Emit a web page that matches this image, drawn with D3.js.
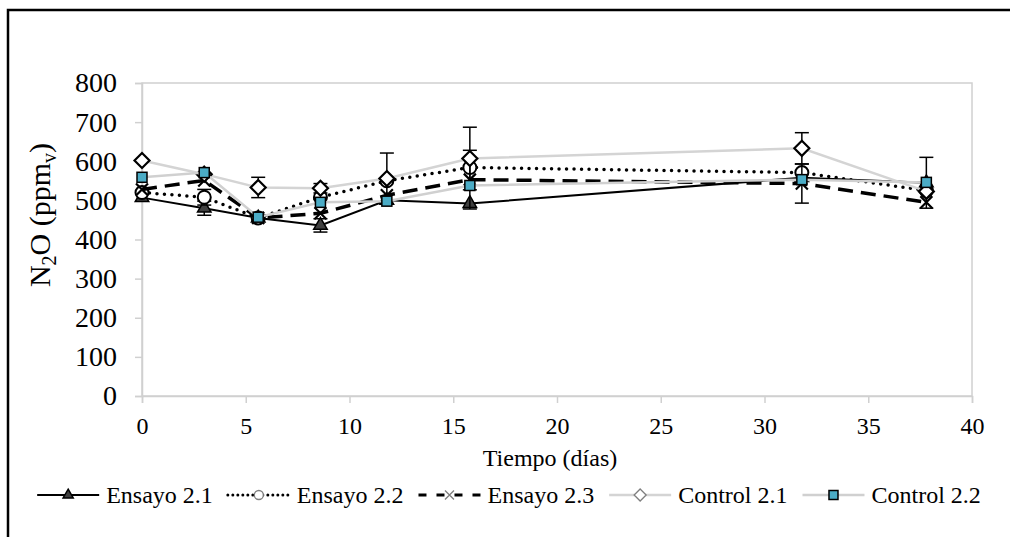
<!DOCTYPE html>
<html>
<head>
<meta charset="utf-8">
<script src="https://cdn.jsdelivr.net/npm/d3@7"></script>
<style>
  body { margin: 0; background: #fff; }
  svg { display: block; font-family: "Liberation Serif", "Times New Roman", serif; }
</style>
</head>
<body>
<div id="chart"></div>
<script>
// times (days) and N2O readings (ppmv) per series
const tiempo = [0, 3, 5.6, 8.6, 11.8, 15.8, 31.8, 37.8];
const ensayo21 = [507, 480, 455, 436, 500, 492, 558, 545];
const ensayo22 = [520, 508, 455, 508, 550, 584, 571, 525];
const ensayo23 = [528, 551, 455, 467, 513, 553, 543, 495];
const control21 = [602, 567, 533, 531, 556, 607, 633, 523];
const control22 = [559, 571, 457, 495, 498, 538, 553, 546];
// error bar half-widths (0 = none drawn)
const err21 = [0, 18, 0, 17, 0, 0, 0, 65];
const err22 = [0, 20, 0, 0, 0, 0, 0, 0];
const err23 = [0, 0, 0, 0, 0, 75, 50, 0];
const errC1 = [0, 0, 26, 12, 65, 80, 40, 0];
const errC2 = [0, 0, 0, 0, 0, 0, 0, 0];
const xTicks = [0, 5, 10, 15, 20, 25, 30, 35, 40];
const yTicks = [0, 100, 200, 300, 400, 500, 600, 700, 800];

const width = 1010, height = 537;
const plot = { left: 142, right: 972, top: 83, bottom: 396 };

const svg = d3.select("#chart").append("svg")
  .attr("width", width)
  .attr("height", height);

// outer frame
svg.append("rect")
  .attr("x", 8).attr("y", 10)
  .attr("width", 1020).attr("height", 560)
  .attr("fill", "none")
  .attr("stroke", "#000")
  .attr("stroke-width", 2.5);

const x = d3.scaleLinear().domain([0, 40]).range([plot.left, plot.right]);
const y = d3.scaleLinear().domain([0, 800]).range([plot.bottom, plot.top]);

// plot box
svg.append("rect")
  .attr("x", plot.left).attr("y", plot.top)
  .attr("width", plot.right - plot.left).attr("height", plot.bottom - plot.top)
  .attr("fill", "none").attr("stroke", "#d0d0d0").attr("stroke-width", 1.5);

const gx = svg.append("g")
  .attr("transform", `translate(0,${plot.bottom})`)
  .call(d3.axisBottom(x).tickValues(xTicks).tickSize(7).tickPadding(14));
gx.select(".domain").attr("stroke", "#d0d0d0").attr("stroke-width", 1.5);
gx.selectAll(".tick line").attr("stroke", "#d0d0d0").attr("stroke-width", 1.5);
gx.selectAll(".tick text").attr("font-size", 24).attr("fill", "#000")
  .attr("font-family", "Liberation Serif");

const gy = svg.append("g")
  .attr("transform", `translate(${plot.left},0)`)
  .call(d3.axisLeft(y).tickValues(yTicks).tickSize(7).tickPadding(18));
gy.select(".domain").attr("stroke", "#d0d0d0").attr("stroke-width", 1.5);
gy.selectAll(".tick line").attr("stroke", "#d0d0d0").attr("stroke-width", 1.5);
gy.selectAll(".tick text").attr("font-size", 28).attr("fill", "#000")
  .attr("font-family", "Liberation Serif");

// axis titles
svg.append("text")
  .attr("x", 550).attr("y", 466)
  .attr("text-anchor", "middle")
  .attr("font-size", 24)
  .text("Tiempo (días)");

const yt = svg.append("text")
  .attr("transform", "translate(50,215) rotate(-90)")
  .attr("text-anchor", "middle")
  .attr("font-size", 30);
yt.append("tspan").text("N");
yt.append("tspan").attr("font-size", 20).attr("dy", 6).text("2");
yt.append("tspan").attr("dy", -6).text("O (ppm");
yt.append("tspan").attr("font-size", 20).attr("dy", 6).text("v");
yt.append("tspan").attr("dy", -6).text(")");

// marker makers
const markers = {
  triangle: (g, s) => g.append("path")
    .attr("d", d3.symbol(d3.symbolTriangle, s * s * 0.55)())
    .attr("fill", "#404040").attr("stroke", "#000").attr("stroke-width", 1.5),
  circle: (g, s) => g.append("circle").attr("r", s / 2)
    .attr("fill", "#fff").attr("stroke", "#000").attr("stroke-width", 2),
  cross: (g, s) => g.append("path")
    .attr("d", `M${-s/2},${-s/2}L${s/2},${s/2}M${-s/2},${s/2}L${s/2},${-s/2}`)
    .attr("fill", "none").attr("stroke", "#000").attr("stroke-width", 2.2),
  diamond: (g, s) => g.append("path")
    .attr("d", `M0,${-s/2}L${s/2},0L0,${s/2}L${-s/2},0Z`)
    .attr("fill", "#fff").attr("stroke", "#000").attr("stroke-width", 2.2),
  square: (g, s) => g.append("rect")
    .attr("x", -s / 2).attr("y", -s / 2).attr("width", s).attr("height", s)
    .attr("fill", "#4bacc6").attr("stroke", "#000").attr("stroke-width", 1.5)
};

const series = [
  { name: "Ensayo 2.1", values: ensayo21, err: err21, color: "#000", width: 2, dash: null, cap: "butt", marker: "triangle", size: 12 },
  { name: "Ensayo 2.2", values: ensayo22, err: err22, color: "#000", width: 3.5, dash: "0,7.5", cap: "round", marker: "circle", size: 13 },
  { name: "Ensayo 2.3", values: ensayo23, err: err23, color: "#000", width: 3.5, dash: "15,8", cap: "butt", marker: "cross", size: 12 },
  { name: "Control 2.1", values: control21, err: errC1, color: "#d4d4d4", width: 2.5, dash: null, cap: "butt", marker: "diamond", size: 15 },
  { name: "Control 2.2", values: control22, err: errC2, color: "#d0d0d0", width: 2.5, dash: null, cap: "butt", marker: "square", size: 10 }
];

const line = d3.line().x(d => x(d[0])).y(d => y(d[1]));

series.forEach(s => {
  const pts = tiempo.map((t, i) => [t, s.values[i], s.err[i]]);
  const g = svg.append("g");
  g.append("path")
    .attr("d", line(pts))
    .attr("fill", "none")
    .attr("stroke", s.color)
    .attr("stroke-width", s.width)
    .attr("stroke-dasharray", s.dash)
    .attr("stroke-linecap", s.cap);

  // error bars
  pts.filter(p => p[2] > 0).forEach(p => {
    const eb = g.append("g").attr("stroke", "#000").attr("stroke-width", 1.5);
    eb.append("line").attr("x1", x(p[0])).attr("x2", x(p[0]))
      .attr("y1", y(p[1] - p[2])).attr("y2", y(p[1] + p[2]));
    [p[1] - p[2], p[1] + p[2]].forEach(v => {
      eb.append("line").attr("x1", x(p[0]) - 7).attr("x2", x(p[0]) + 7)
        .attr("y1", y(v)).attr("y2", y(v));
    });
  });

  pts.forEach(p => {
    const m = g.append("g").attr("transform", `translate(${x(p[0])},${y(p[1])})`);
    markers[s.marker](m, s.size);
  });
});

// legend
const legendY = 495;
const lineLen = 62;
const legend = svg.append("g");
const items = series.map(s => {
  const g = legend.append("g");
  g.append("line")
    .attr("x1", 0).attr("x2", lineLen)
    .attr("y1", 0).attr("y2", 0)
    .attr("stroke", s.color)
    .attr("stroke-width", s.width === 3.5 ? 3 : s.width)
    .attr("stroke-dasharray", s.dash === "15,8" ? "8,10" : (s.dash ? "0,5" : null))
    .attr("stroke-linecap", s.cap);
  const m = g.append("g").attr("transform", `translate(${lineLen / 2},0)`);
  const mk = markers[s.marker](m, s.marker === "diamond" ? 12 : 9);
  if (s.marker !== "triangle" && s.marker !== "square") {
    mk.attr("stroke", "#7f7f7f").attr("stroke-width", 1.3);
    if (s.marker === "circle" || s.marker === "diamond") mk.attr("fill", "#fff");
  }
  const t = g.append("text")
    .attr("x", lineLen + 7).attr("y", 8)
    .attr("font-size", 24)
    .text(s.name);
  return { g, w: lineLen + 7 + t.node().getComputedTextLength() };
});
const gap = 15;
const total = d3.sum(items, d => d.w) + gap * (items.length - 1);
let cx = 509 - total / 2;
items.forEach(it => {
  it.g.attr("transform", `translate(${cx},${legendY})`);
  cx += it.w + gap;
});
</script>
</body>
</html>
